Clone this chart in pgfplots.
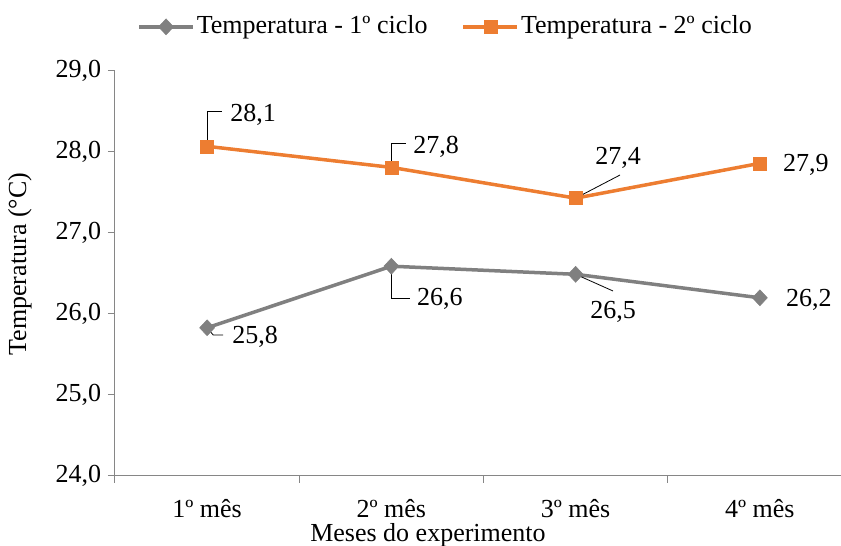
\documentclass[border=0pt]{standalone}
\usepackage{pgfplots}
\pgfplotsset{compat=1.18}
\usepackage{fontspec}
\setmainfont{Liberation Serif}
\definecolor{sgray}{RGB}{128,128,128}
\definecolor{sorange}{RGB}{237,125,49}
\definecolor{axgray}{RGB}{134,134,134}
\begin{document}
\fontsize{26}{31}\selectfont
\begin{tikzpicture}
\begin{axis}[
  at={(0pt,0pt)}, anchor=south west,
  scale only axis, width=737pt, height=405pt,
  xmin=-0.5, xmax=3.5, ymin=24, ymax=29,
  axis x line*=bottom, axis y line*=left,
  axis line style={axgray, line width=1pt, -},
  xtick={0,1,2,3},
  xticklabels={1º mês,2º mês,3º mês,4º mês},
  minor xtick={-0.5,0.5,1.5,2.5,3.5},
  major x tick style={draw=none},
  minor x tick style={axgray, line width=1pt},
  minor tick length=7pt,
  ytick={24,25,26,27,28,29},
  yticklabels={{24,0},{25,0},{26,0},{27,0},{28,0},{29,0}},
  y tick style={axgray, line width=1pt},
  major tick length=7pt,
  tick align=outside,
  xticklabel style={yshift=-8pt},
  yticklabel style={xshift=2pt},
  xlabel={Meses do experimento},
  xlabel style={at={(axis description cs:0.4247,-0.146)}, anchor=center},
  ylabel={Temperatura (°C)},
  ylabel style={at={(axis description cs:-0.129,0.523)}, anchor=center, rotate=0},
  clip=false,
  legend columns=2,
  legend style={at={(axis description cs:0.03,1.109)}, anchor=west, draw=none, fill=none,
    inner sep=0pt, nodes={inner sep=2pt},
    /tikz/every even column/.append style={column sep=32pt}},
  legend cell align=left,
  legend image code/.code={
    \draw[mark repeat=2,mark phase=2] plot coordinates {(0pt,0pt) (27pt,0pt) (54pt,0pt)};
  },
]
\addplot[color=sgray, line width=3.5pt, mark=diamond*, mark size=8pt,
  mark options={solid, fill=sgray, draw=sgray, line width=0.5pt, xscale=1.25}]
  coordinates {(0,25.83) (1,26.59) (2,26.49) (3,26.20)};
\addlegendentry{Temperatura - 1º ciclo}
\addplot[color=sorange, line width=3.5pt, mark=square*, mark size=6.5pt,
  mark options={solid, fill=sorange, draw=sorange, line width=0.5pt}]
  coordinates {(0,28.07) (1,27.81) (2,27.43) (3,27.86)};
\addlegendentry{Temperatura - 2º ciclo}

% data labels with leader lines
\draw[black, line width=0.8pt] (axis cs:0,28.07) -- (axis cs:0,28.506) -- (axis cs:0.081,28.506);
\node[anchor=west, inner sep=0pt] at (axis cs:0.125,28.457) {28,1};
\draw[black, line width=0.8pt] (axis cs:1,27.81) -- (axis cs:1,28.111) -- (axis cs:1.080,28.111);
\node[anchor=west, inner sep=0pt] at (axis cs:1.118,28.062) {27,8};
\draw[black, line width=0.8pt] (axis cs:2,27.43) -- (axis cs:2.241,27.716);
\node[anchor=center, inner sep=0pt] at (axis cs:2.230,27.926) {27,4};
\node[anchor=west, inner sep=0pt] at (axis cs:3.125,27.84) {27,9};

\draw[black, line width=0.8pt] (axis cs:0,25.83) -- (axis cs:0.033,25.741) -- (axis cs:0.087,25.741);
\node[anchor=west, inner sep=0pt] at (axis cs:0.136,25.716) {25,8};
\draw[black, line width=0.8pt] (axis cs:1,26.59) -- (axis cs:1,26.198) -- (axis cs:1.101,26.198);
\node[anchor=west, inner sep=0pt] at (axis cs:1.139,26.185) {26,6};
\draw[black, line width=0.8pt] (axis cs:2,26.49) -- (axis cs:2.203,26.284);
\node[anchor=center, inner sep=0pt] at (axis cs:2.203,26.025) {26,5};
\node[anchor=west, inner sep=0pt] at (axis cs:3.142,26.173) {26,2};
\end{axis}
\pgfresetboundingbox
\useasboundingbox (-115pt,-70pt) rectangle (726pt,476pt);
\end{tikzpicture}
\end{document}
